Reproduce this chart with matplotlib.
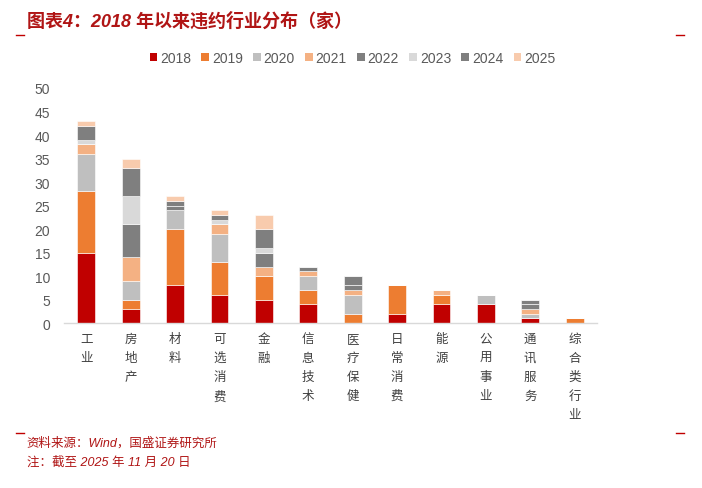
import matplotlib.pyplot as plt
from matplotlib.patches import Patch
from matplotlib.lines import Line2D
import numpy as np

plt.rcParams['font.family'] = ['Liberation Sans', 'Noto Sans CJK SC', 'DejaVu Sans']

industries = ['工业', '房地产', '材料', '可选消费', '金融', '信息技术', '医疗保健',
              '日常消费', '能源', '公用事业', '通讯服务', '综合类行业']
years = ['2018', '2019', '2020', '2021', '2022', '2023', '2024', '2025']

v2018 = [15, 3, 8, 6, 5, 4, 0, 2, 4, 4, 1, 0]
v2019 = [13, 2, 12, 7, 5, 3, 2, 6, 2, 0, 0, 1]
v2020 = [8, 4, 4, 6, 0, 3, 4, 0, 0, 2, 1, 0]
v2021 = [2, 5, 0, 2, 2, 1, 1, 0, 1, 0, 1, 0]
v2022 = [0, 7, 1, 0, 3, 0, 1, 0, 0, 0, 1, 0]
v2023 = [1, 6, 0, 1, 1, 0, 0, 0, 0, 0, 0, 0]
v2024 = [3, 6, 1, 1, 4, 1, 2, 0, 0, 0, 1, 0]
v2025 = [1, 2, 1, 1, 3, 0, 0, 0, 0, 0, 0, 0]

series = [v2018, v2019, v2020, v2021, v2022, v2023, v2024, v2025]
colors = ['#C00000', '#ED7D31', '#BFBFBF', '#F4B183', '#7F7F7F', '#D9D9D9', '#7F7F7F', '#F8CBAD']

fig = plt.figure(figsize=(7.02, 4.89), dpi=100)
ax = fig.add_axes([0.0912, 0.3374, 0.759, 0.4806])

x = np.arange(len(industries))
bottom = np.zeros(len(industries))
for vals, c, yr in zip(series, colors, years):
    ax.bar(x, vals, width=0.4, bottom=bottom, color=c, edgecolor='white', linewidth=0.4, label=yr)
    bottom += np.array(vals)

ax.set_xlim(-0.5, len(industries) - 0.5)
ax.set_ylim(0, 50)
ax.set_yticks(range(0, 51, 5))
ax.tick_params(axis='y', length=0, labelsize=10, labelcolor='#595959', pad=10)
ax.tick_params(axis='x', length=0)
ax.set_xticks(x)
ax.set_xticklabels(['\n'.join(s) for s in industries], fontsize=9, color='#404040',
                   linespacing=1.78, va='top')
ax.tick_params(axis='x', pad=7)
for s in ['top', 'right', 'left']:
    ax.spines[s].set_visible(False)
ax.spines['bottom'].set_color('#D9D9D9')
ax.spines['bottom'].set_linewidth(1.0)

handles = [Patch(facecolor=c, label=yr) for c, yr in zip(colors, years)]
fig.legend(handles=handles, loc='center', bbox_to_anchor=(0.502, 0.879), ncol=8,
           frameon=False, fontsize=10, handlelength=0.55, handleheight=0.55,
           handletextpad=0.2, columnspacing=0.75, labelcolor='#595959')

red = '#B01515'
fig.text(0.038, 0.957, '图表4：2018 年以来违约行业分布（家）', fontsize=13, fontweight='bold',
         style='italic', color=red, va='center')
fig.text(0.038, 0.094, '资料来源：Wind，国盛证券研究所', fontsize=9, style='italic',
         color=red, va='center')
fig.text(0.038, 0.055, '注：截至 2025 年 11 月 20 日', fontsize=9, style='italic',
         color=red, va='center')

for (x0, x1, yy) in [(16, 24, 36), (676, 684, 36), (16, 24, 434), (676, 684, 434)]:
    fig.add_artist(Line2D([x0 / 702, x1 / 702], [1 - yy / 489, 1 - yy / 489],
                          color='#C00000', linewidth=1.0))

fig.savefig('out.png', dpi=100)
